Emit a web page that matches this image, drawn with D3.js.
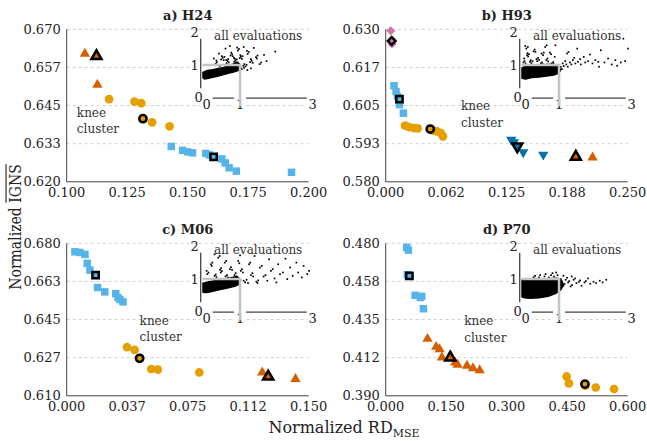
<!DOCTYPE html>
<html>
<head>
<meta charset="utf-8">
<script src="https://cdn.jsdelivr.net/npm/d3@7"></script>
<style>
  body { margin: 0; background: #fff; }
  svg { display: block; font-family: "DejaVu Serif", serif; }
</style>
</head>
<body>
<svg id="chart" width="647" height="441"></svg>
<script>
// --- panel setup ---
const panelTitles = ["a) H24", "b) H93", "c) M06", "d) P70"];
const xDomains = [[0.1, 0.2], [0, 0.25], [0, 0.15], [0, 0.6]];
const yDomains = [[0.62, 0.67], [0.58, 0.63], [0.61, 0.68], [0.39, 0.48]];
const xTickLabels = [
  ["0.100", "0.125", "0.150", "0.175", "0.200"],
  ["0.000", "0.062", "0.125", "0.188", "0.250"],
  ["0.000", "0.037", "0.075", "0.112", "0.150"],
  ["0.000", "0.150", "0.300", "0.450", "0.600"]
];
const yTickLabels = [
  ["0.620", "0.633", "0.645", "0.657", "0.670"],
  ["0.580", "0.593", "0.605", "0.617", "0.630"],
  ["0.610", "0.627", "0.645", "0.663", "0.680"],
  ["0.390", "0.412", "0.435", "0.458", "0.480"]
];
// where the "knee cluster" note sits (data units, first baseline)
const kneeLabelAt = [[0.1042, 0.6414], [0.0778, 0.6034], [0.0452, 0.6426], [0.1948, 0.4319]];

// --- H24 ---
const h24Squares = [[0.1432, 0.6316], [0.1479, 0.6303], [0.1500, 0.6298], [0.1520, 0.6295], [0.1575, 0.6293],
  [0.1590, 0.6288], [0.1641, 0.6275], [0.1655, 0.6262], [0.1671, 0.6246], [0.1701, 0.6235], [0.1929, 0.6231]];
const h24SquarePick = [0.1607, 0.6282];
const h24Circles = [[0.1175, 0.6471], [0.1280, 0.6463], [0.1308, 0.6458], [0.1353, 0.6395], [0.1425, 0.6382]];
const h24CirclePick = [0.1315, 0.6407];
const h24Triangles = [[0.1075, 0.6620], [0.1127, 0.6518]];
const h24TrianglePick = [0.1123, 0.6612];

// --- H93 ---
const h93Diamonds = [[0.0052, 0.6295], [0.0065, 0.6252]];
const h93DiamondPick = [0.0062, 0.6262];
const h93Squares = [[0.0086, 0.6115], [0.0107, 0.6096], [0.0121, 0.6080], [0.0142, 0.6053], [0.0183, 0.6025]];
const h93SquarePick = [0.0142, 0.6071];
const h93Circles = [[0.0200, 0.5984], [0.0245, 0.5979], [0.0296, 0.5976], [0.0330, 0.5975], [0.0490, 0.5968],
  [0.0530, 0.5965], [0.0570, 0.5960], [0.0591, 0.5949]];
const h93CirclePick = [0.0460, 0.5973];
const h93Down = [[0.1297, 0.5938], [0.1324, 0.5930], [0.1421, 0.5897], [0.1628, 0.5889]];
const h93DownPick = [0.1359, 0.5916];
const h93Triangles = [[0.2137, 0.5880]];
const h93TrianglePick = [0.1964, 0.5882];

// --- M06 ---
const m06Squares = [[0.0051, 0.6761], [0.0082, 0.6758], [0.0113, 0.6749], [0.0127, 0.6708], [0.0144, 0.6677],
  [0.0191, 0.6597], [0.0236, 0.6577], [0.0304, 0.6569], [0.0318, 0.6551], [0.0330, 0.6542], [0.0349, 0.6531]];
const m06SquarePick = [0.0179, 0.6654];
const m06Circles = [[0.0374, 0.6323], [0.0421, 0.6311], [0.0524, 0.6223], [0.0565, 0.6220], [0.0822, 0.6207]];
const m06CirclePick = [0.0452, 0.6272];
const m06Triangles = [[0.1212, 0.6207], [0.1418, 0.6177]];
const m06TrianglePick = [0.1249, 0.6188];

// --- P70 ---
const p70Squares = [[0.0522, 0.4776], [0.0562, 0.4760], [0.0537, 0.4615], [0.0729, 0.4493], [0.0860, 0.4480],
  [0.0895, 0.4487], [0.0936, 0.4414]];
const p70SquarePick = [0.0587, 0.4608];
const p70Triangles = [[0.1036, 0.4236], [0.1252, 0.4189], [0.1335, 0.4175], [0.1393, 0.4126], [0.1724, 0.4096],
  [0.1782, 0.4083], [0.2015, 0.4077], [0.2164, 0.4063], [0.2329, 0.4051]];
const p70TrianglePick = [0.1600, 0.4126];
const p70Circles = [[0.4485, 0.4014], [0.4543, 0.3973], [0.4950, 0.3960], [0.5207, 0.3949], [0.5663, 0.3940]];
const p70CirclePick = [0.4940, 0.3969];

// --- inset "all evaluations": outline of the solid blob + loose points (read by eye) ---
const h24Dense = [[-0.02, 0.62], [-0.02, 0.78], [0.1, 0.84], [0.25, 0.86], [0.4, 0.9], [0.55, 0.93], [0.7, 0.99],
  [0.82, 1.04], [0.93, 1.09], [1.0, 1.02], [1.02, 0.92], [0.97, 0.84], [0.85, 0.8], [0.7, 0.76], [0.55, 0.71],
  [0.4, 0.67], [0.25, 0.63], [0.1, 0.59], [0.02, 0.58]];
const h24Cloud = [[0.33, 1.04], [0.36, 1.09], [0.38, 1.01], [0.35, 1.14], [0.48, 1.17], [0.52, 1.22], [0.55, 1.15],
  [0.5, 1.27], [0.57, 1.25], [0.44, 0.97], [0.47, 1.0], [0.63, 1.06], [0.66, 1.12], [0.69, 1.08], [0.67, 1.18],
  [0.62, 1.15], [0.74, 1.29], [0.78, 1.33], [0.76, 1.38], [0.8, 1.27], [0.84, 1.1], [0.87, 1.14], [0.89, 1.08],
  [0.86, 1.19], [0.91, 1.17], [0.83, 1.22], [0.94, 1.44], [0.97, 1.49], [0.92, 1.53], [0.99, 1.21], [1.02, 1.25],
  [1.05, 1.19], [1.01, 1.3], [1.07, 1.27], [1.09, 0.98], [1.12, 1.03], [1.15, 0.96], [1.11, 0.92], [1.18, 1.01],
  [1.21, 1.34], [1.24, 1.4], [1.19, 1.43], [1.28, 1.09], [1.32, 1.13], [1.35, 1.07], [1.3, 1.18], [1.44, 1.24],
  [1.48, 1.29], [1.46, 1.2], [1.54, 1.03], [1.58, 1.08], [1.66, 1.31], [1.73, 1.12], [0.6, 1.5], [0.72, 1.58],
  [1.1, 1.55], [1.38, 1.52], [0.42, 1.35], [0.28, 1.2], [1.97, 1.41], [1.2, 0.85], [1.3, 0.9], [1.05, 0.88]];
const h93Dense = [[-0.02, 0.6], [-0.02, 0.92], [0.1, 0.97], [0.25, 0.99], [0.45, 1.0], [0.65, 1.02], [0.85, 1.03],
  [0.98, 0.98], [1.05, 0.86], [1.0, 0.76], [0.85, 0.7], [0.65, 0.67], [0.45, 0.64], [0.25, 0.62], [0.08, 0.58]];
const h93Cloud = [[0.02, 1.08], [0.05, 1.12], [0.04, 1.2], [0.08, 1.05], [0.12, 1.3], [0.15, 1.26], [0.13, 1.36],
  [0.17, 1.33], [0.2, 1.1], [0.24, 1.06], [0.22, 1.15], [0.27, 1.12], [0.1, 1.5], [0.14, 1.55], [0.07, 1.58],
  [0.3, 1.42], [0.33, 1.47], [0.35, 1.4], [0.38, 1.18], [0.42, 1.22], [0.4, 1.12], [0.45, 1.16], [0.5, 1.05],
  [0.53, 1.08], [0.55, 1.03], [0.52, 1.35], [0.56, 1.3], [0.58, 1.38], [0.62, 1.55], [0.66, 1.6], [0.65, 1.15],
  [0.68, 1.2], [0.7, 1.11], [0.75, 1.38], [0.78, 1.33], [0.8, 1.05], [0.84, 1.09], [0.86, 1.02], [0.88, 1.25],
  [0.9, 1.6], [0.98, 0.9], [1.02, 0.84], [1.05, 0.95], [1.08, 0.88], [1.1, 1.05], [1.13, 0.97], [1.17, 1.12],
  [1.2, 1.02], [1.24, 0.95], [1.22, 1.35], [1.26, 1.4], [1.3, 1.08], [1.34, 1.02], [1.38, 1.15], [1.42, 1.22],
  [1.45, 1.05], [1.5, 1.5], [1.52, 1.1], [1.58, 1.18], [1.6, 1.02], [1.68, 1.25], [1.72, 1.08], [1.8, 1.12],
  [1.85, 1.32], [1.92, 1.05], [2.0, 1.15], [2.08, 1.1], [2.15, 1.45], [2.25, 1.08], [2.35, 1.2], [2.45, 1.02],
  [2.55, 1.15], [2.7, 1.08], [2.82, 1.12], [2.9, 1.5], [2.77, 1.8], [2.6, 0.98], [2.1, 0.95]];
const m06Dense = [[-0.02, 0.6], [-0.02, 0.88], [0.15, 0.92], [0.35, 0.96], [0.55, 1.0], [0.75, 1.04], [0.92, 1.08],
  [1.02, 0.98], [0.98, 0.84], [0.85, 0.78], [0.65, 0.73], [0.45, 0.68], [0.25, 0.63], [0.08, 0.59]];
const m06Cloud = [[0.1, 1.15], [0.13, 1.2], [0.08, 1.25], [0.2, 1.45], [0.24, 1.5], [0.22, 1.4], [0.3, 1.1],
  [0.33, 1.14], [0.35, 1.06], [0.4, 1.65], [0.44, 1.7], [0.45, 1.28], [0.48, 1.33], [0.5, 1.24], [0.47, 1.2],
  [0.58, 1.5], [0.62, 1.55], [0.6, 1.08], [0.64, 1.12], [0.66, 1.05], [0.72, 1.3], [0.75, 1.36], [0.78, 1.28],
  [0.85, 1.12], [0.88, 1.18], [0.9, 1.08], [0.95, 1.55], [0.98, 1.48], [1.02, 1.25], [1.05, 1.3], [1.08, 1.2],
  [1.1, 0.95], [1.14, 0.9], [1.18, 0.98], [1.22, 0.88], [1.25, 1.45], [1.28, 1.5], [1.3, 1.12], [1.34, 1.18],
  [1.36, 1.08], [1.45, 0.92], [1.5, 0.96], [1.48, 0.88], [1.55, 1.35], [1.6, 1.4], [1.65, 1.08], [1.7, 1.12],
  [1.8, 1.6], [1.85, 1.25], [1.9, 1.3], [1.95, 1.02], [2.05, 1.45], [2.1, 1.15], [2.18, 1.2], [2.25, 1.62],
  [2.3, 1.0], [2.38, 1.35], [2.45, 1.1], [2.55, 1.5], [2.6, 1.2], [2.7, 1.05], [2.75, 1.4], [2.85, 1.15],
  [2.9, 1.25], [1.4, 1.7], [0.3, 1.75], [1.0, 1.72], [2.0, 0.9], [1.75, 0.95]];
const p70Dense = [[-0.02, 0.46], [-0.02, 0.98], [0.15, 1.0], [0.35, 1.02], [0.55, 0.99], [0.75, 1.01], [0.95, 1.03],
  [1.08, 0.95], [1.12, 0.82], [1.05, 0.68], [0.9, 0.56], [0.7, 0.48], [0.45, 0.43], [0.2, 0.42], [0.05, 0.43]];
const p70Cloud = [[0.3, 1.06], [0.34, 1.1], [0.45, 1.05], [0.48, 1.12], [0.6, 1.08], [0.63, 1.15], [0.72, 1.05],
  [0.78, 1.12], [0.82, 1.18], [0.86, 1.08], [0.92, 1.2], [0.96, 1.12], [1.02, 0.95], [1.05, 1.0], [1.07, 0.88],
  [1.12, 0.8], [1.15, 0.85], [1.18, 0.98], [1.22, 1.04], [1.25, 0.9], [1.28, 0.94], [1.32, 0.78], [1.36, 0.82],
  [1.4, 0.98], [1.44, 1.02], [1.48, 0.88], [1.55, 0.92], [1.58, 0.96], [1.62, 0.8], [1.7, 0.9], [1.74, 0.94],
  [1.8, 1.02], [1.86, 0.86], [1.95, 0.92], [2.02, 0.88], [2.12, 0.95], [2.2, 0.9], [2.3, 0.98], [1.12, 1.1],
  [1.35, 1.08]];
const insetXTicks = [0, 1, 3];
const insetYTicks = [0, 1, 2];

// marker styles (Okabe-Ito colours)
const styles = {
  square:  { type: d3.symbolSquare,   size: 56, pick: 40, rot: 0,   fill: "#56B4E9" },
  circle:  { type: d3.symbolCircle,   size: 60, pick: 42, rot: 0,   fill: "#E69F00" },
  triUp:   { type: d3.symbolTriangle, size: 46, pick: 44, rot: 0,   fill: "#D55E00" },
  triDown: { type: d3.symbolTriangle, size: 46, pick: 44, rot: 180, fill: "#0072B2" },
  diamond: { type: d3.symbolSquare,   size: 42, pick: 30, rot: 45,  fill: "#CC79A7" }
};

const panelSeries = [
  [
    { style: "triUp", pts: h24Triangles, pick: h24TrianglePick },
    { style: "circle", pts: h24Circles, pick: h24CirclePick },
    { style: "square", pts: h24Squares, pick: h24SquarePick }
  ],
  [
    { style: "diamond", pts: h93Diamonds, pick: h93DiamondPick },
    { style: "square", pts: h93Squares, pick: h93SquarePick },
    { style: "circle", pts: h93Circles, pick: h93CirclePick },
    { style: "triDown", pts: h93Down, pick: h93DownPick },
    { style: "triUp", pts: h93Triangles, pick: h93TrianglePick }
  ],
  [
    { style: "square", pts: m06Squares, pick: m06SquarePick },
    { style: "circle", pts: m06Circles, pick: m06CirclePick },
    { style: "triUp", pts: m06Triangles, pick: m06TrianglePick }
  ],
  [
    { style: "square", pts: p70Squares, pick: p70SquarePick },
    { style: "triUp", pts: p70Triangles, pick: p70TrianglePick },
    { style: "circle", pts: p70Circles, pick: p70CirclePick }
  ]
];
const insetDense = [h24Dense, h93Dense, m06Dense, p70Dense];
const insetCloud = [h24Cloud, h93Cloud, m06Cloud, p70Cloud];

// layout
const colLefts = [66.7, 385.7];
const rowTops = [29.3, 243.3];
const plotW = 242, plotH = 152.5;
const axisColor = "#444", gridColor = "#cfcfcf", textColor = "#222";

const svg = d3.select("#chart");

panelTitles.forEach((title, i) => {
  const left = colLefts[i % 2], top = rowTops[Math.floor(i / 2)];
  const x = d3.scaleLinear().domain(xDomains[i]).range([left, left + plotW]);
  const y = d3.scaleLinear().domain(yDomains[i]).range([top + plotH, top]);
  const xTicks = d3.range(5).map(k => xDomains[i][0] + k * (xDomains[i][1] - xDomains[i][0]) / 4);
  const yTicks = d3.range(5).map(k => yDomains[i][0] + k * (yDomains[i][1] - yDomains[i][0]) / 4);
  const g = svg.append("g");

  // dashed grid
  g.selectAll(null).data(yTicks.slice(1)).join("line")
    .attr("x1", left).attr("x2", left + plotW)
    .attr("y1", d => y(d)).attr("y2", d => y(d))
    .attr("stroke", gridColor).attr("stroke-width", 1).attr("stroke-dasharray", "3,3");

  drawInset(g, left + 137, top, insetDense[i], insetCloud[i]);

  // axis lines
  g.append("line").attr("x1", left).attr("x2", left).attr("y1", top).attr("y2", top + plotH)
    .attr("stroke", axisColor).attr("stroke-width", 1);
  g.append("line").attr("x1", left).attr("x2", left + plotW).attr("y1", top + plotH).attr("y2", top + plotH)
    .attr("stroke", axisColor).attr("stroke-width", 1);

  // tick labels
  g.selectAll(null).data(yTicks).join("text")
    .attr("x", left - 6).attr("y", d => y(d)).attr("dy", "0.36em")
    .attr("text-anchor", "end").attr("fill", textColor).style("font-size", "13px")
    .text((d, k) => yTickLabels[i][k]);
  g.selectAll(null).data(xTicks).join("text")
    .attr("x", d => x(d)).attr("y", top + plotH + 15.5)
    .attr("text-anchor", "middle").attr("fill", textColor).style("font-size", "13px")
    .text((d, k) => xTickLabels[i][k]);

  // title
  g.append("text").attr("x", left + plotW / 2).attr("y", top - 9)
    .attr("text-anchor", "middle").attr("fill", textColor)
    .style("font-size", "13px").style("font-weight", "bold")
    .text(title);

  // knee cluster note
  const kn = g.append("text").attr("fill", "#333").style("font-size", "12px");
  kn.append("tspan").attr("x", x(kneeLabelAt[i][0])).attr("y", y(kneeLabelAt[i][1])).text("knee");
  kn.append("tspan").attr("x", x(kneeLabelAt[i][0])).attr("dy", 16.7).text("cluster");

  // markers, then the picked ones on top
  panelSeries[i].forEach(s => {
    const st = styles[s.style];
    g.selectAll(null).data(s.pts).join("path")
      .attr("d", d3.symbol(st.type, st.size))
      .attr("transform", d => `translate(${x(d[0])},${y(d[1])}) rotate(${st.rot})`)
      .attr("fill", st.fill);
  });
  panelSeries[i].forEach(s => {
    const st = styles[s.style];
    g.append("path")
      .attr("d", d3.symbol(st.type, st.pick)())
      .attr("transform", `translate(${x(s.pick[0])},${y(s.pick[1])}) rotate(${st.rot})`)
      .attr("fill", st.fill).attr("stroke", "#000").attr("stroke-width", 2.5)
      .attr("stroke-linejoin", "miter");
  });
});

function drawInset(g, x0, top, dense, cloud) {
  const ix = d3.scaleLinear().domain([0, 3]).range([x0, x0 + 109]);
  const iy = d3.scaleLinear().domain([0, 2]).range([top + 68.8, top + 2.8]);
  const ig = g.append("g");

  ig.append("rect").attr("x", x0 - 13).attr("y", top + 1.5)
    .attr("width", 126).attr("height", 69).attr("fill", "#fff");

  ig.append("text").attr("x", ix(1.5)).attr("y", top + 11)
    .attr("text-anchor", "middle").attr("fill", "#333").style("font-size", "12px")
    .text("all evaluations");

  ig.append("path")
    .attr("d", d3.line().x(d => ix(d[0])).y(d => iy(d[1])).curve(d3.curveLinearClosed)(dense))
    .attr("fill", "#000").attr("stroke", "#000").attr("stroke-width", 1.4).attr("stroke-linejoin", "round");
  ig.selectAll(null).data(cloud).join("rect")
    .attr("x", d => ix(d[0]) - 0.85).attr("y", d => iy(d[1]) - 0.85)
    .attr("width", 1.7).attr("height", 1.7).attr("fill", "#000");

  // inset axes
  ig.append("line").attr("x1", ix(0) - 3).attr("x2", ix(0) - 3).attr("y1", iy(0.3)).attr("y2", iy(1.8))
    .attr("stroke", axisColor).attr("stroke-width", 1.3);
  ig.append("line").attr("x1", ix(0)).attr("x2", ix(3)).attr("y1", iy(0)).attr("y2", iy(0))
    .attr("stroke", axisColor).attr("stroke-width", 1.3);

  // x tick labels with white boxes that cut the axis line
  const xl = ig.selectAll(null).data(insetXTicks).join("g")
    .attr("transform", d => `translate(${ix(d) + (d === 0 ? 3 : 0)},${iy(0)})`);
  xl.append("rect").attr("x", -6).attr("y", -2).attr("width", 12).attr("height", 14).attr("fill", "#fff");
  xl.append("text").attr("y", 10.5).attr("text-anchor", "middle").attr("fill", textColor)
    .style("font-size", "13px").text(d => d);

  ig.selectAll(null).data(insetYTicks).join("text")
    .attr("x", d => d === 0 ? ix(0) - 1 : ix(0) - 5)
    .attr("y", d => iy(d) - (d === 0 ? 1 : 0)).attr("dy", "0.36em")
    .attr("text-anchor", "end").attr("fill", textColor).style("font-size", "13px")
    .text(d => d);

  // grey box marking the normalised region
  ig.append("path")
    .attr("d", `M${ix(-0.03)},${iy(1)}H${ix(1)}V${iy(-0.25)}`)
    .attr("fill", "none").attr("stroke", "#c4c4c4").attr("stroke-width", 2.5);
}

// axis titles
const xt = svg.append("text").attr("x", 344).attr("y", 433)
  .attr("text-anchor", "middle").attr("fill", textColor).style("font-size", "16px");
xt.append("tspan").text("Normalized RD");
xt.append("tspan").attr("dy", 4).style("font-size", "11px").text("MSE");

const yt = svg.append("text")
  .attr("transform", "translate(21,227) rotate(-90) scale(1,1.15)")
  .attr("text-anchor", "middle").attr("fill", textColor).style("font-size", "14px");
yt.append("tspan").text("Normalized ");
yt.append("tspan").text("IGNS");
const total = yt.node().getComputedTextLength();
const pre = yt.node().getSubStringLength(0, 11);
svg.append("line")
  .attr("transform", "translate(21,227) rotate(-90) scale(1,1.15)")
  .attr("x1", -total / 2 + pre).attr("x2", total / 2)
  .attr("y1", -13).attr("y2", -13)
  .attr("stroke", textColor).attr("stroke-width", 1);
</script>
</body>
</html>
